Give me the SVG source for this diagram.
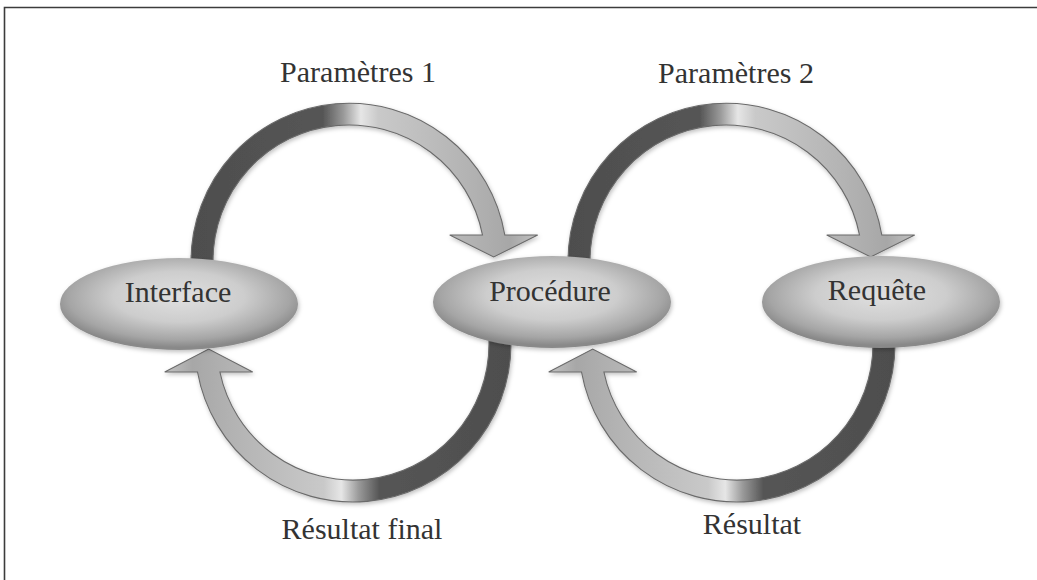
<svg xmlns="http://www.w3.org/2000/svg" width="1037" height="580" viewBox="0 0 1037 580">
  <defs>
    <!-- ribbon shading: dark start, bright crest, light grey arrow end -->
    <linearGradient id="ribbonTop" x1="0" y1="0" x2="1" y2="0">
      <stop offset="0" stop-color="#4e4e4e"/>
      <stop offset="0.38" stop-color="#555555"/>
      <stop offset="0.44" stop-color="#9a9a9a"/>
      <stop offset="0.49" stop-color="#e6e6e6"/>
      <stop offset="0.54" stop-color="#c9c9c9"/>
      <stop offset="0.8" stop-color="#b3b3b3"/>
      <stop offset="0.92" stop-color="#a7a7a7"/>
      <stop offset="1" stop-color="#c2c2c2"/>
    </linearGradient>
    <linearGradient id="ribbonBottom" x1="1" y1="0" x2="0" y2="0">
      <stop offset="0" stop-color="#4e4e4e"/>
      <stop offset="0.38" stop-color="#555555"/>
      <stop offset="0.44" stop-color="#9a9a9a"/>
      <stop offset="0.49" stop-color="#e6e6e6"/>
      <stop offset="0.54" stop-color="#c9c9c9"/>
      <stop offset="0.8" stop-color="#b3b3b3"/>
      <stop offset="0.92" stop-color="#a7a7a7"/>
      <stop offset="1" stop-color="#c2c2c2"/>
    </linearGradient>
    <radialGradient id="oval" cx="0.5" cy="0.42" r="0.55">
      <stop offset="0" stop-color="#e0e0e0"/>
      <stop offset="0.5" stop-color="#cdcdcd"/>
      <stop offset="0.85" stop-color="#a5a5a5"/>
      <stop offset="1" stop-color="#898989"/>
    </radialGradient>
    <filter id="soft" x="-10%" y="-10%" width="120%" height="130%">
      <feDropShadow dx="1" dy="2" stdDeviation="2" flood-color="#000" flood-opacity="0.25"/>
    </filter>
  </defs>
  <style>
    .frame { fill: none; stroke: #3c3c3c; stroke-width: 1.6; }
    .ribbon { stroke: #6a6a6a; stroke-width: 1.1; stroke-linejoin: miter; filter: url(#soft); }
    .top { fill: url(#ribbonTop); }
    .bottom { fill: url(#ribbonBottom); }
    .node ellipse { fill: url(#oval); filter: url(#soft); }
    text { font-family: "Liberation Serif", "Times New Roman", serif; font-size: 30px; fill: #333333; text-anchor: middle; }
  </style>

  <rect width="1037" height="580" fill="#ffffff"/>
  <path class="frame" d="M4.5,580 V7.5 H1037"/>

  <g id="connectors">
    <!-- Interface -> Procédure (top loop, centre 349,261) -->
    <path class="ribbon top" d="M191,266 L191,261 A158,158 0 0 1 504.8,235 L537.7,235 L493.7,257 L449.7,235 L482.5,235 A136,136 0 0 0 213,261 L213,266 Z"/>
    <!-- Procédure -> Requête (top loop, centre 726,261) -->
    <path class="ribbon top" d="M568,266 L568,261 A158,158 0 0 1 881.8,235 L914.7,235 L870.7,257 L826.7,235 L859.5,235 A136,136 0 0 0 590,261 L590,266 Z"/>
    <!-- Procédure -> Interface (bottom loop, centre 353,344) -->
    <path class="ribbon bottom" d="M511,339 L511,344 A158,158 0 0 1 197.5,372 L164.7,372 L208.7,349 L252.7,372 L219.9,372 A136,136 0 0 0 489,344 L489,339 Z"/>
    <!-- Requête -> Procédure (bottom loop, centre 737,344) -->
    <path class="ribbon bottom" d="M895,339 L895,344 A158,158 0 0 1 581.5,372 L548.7,372 L592.7,349 L636.7,372 L603.9,372 A136,136 0 0 0 873,344 L873,339 Z"/>
  </g>

  <g id="node-interface" class="node">
    <ellipse cx="179" cy="304" rx="119" ry="46"/>
    <text x="178" y="302">Interface</text>
  </g>
  <g id="node-procedure" class="node">
    <ellipse cx="552" cy="302" rx="119" ry="46"/>
    <text x="550" y="301">Procédure</text>
  </g>
  <g id="node-requete" class="node">
    <ellipse cx="881" cy="302" rx="119" ry="46"/>
    <text x="877" y="300">Requête</text>
  </g>

  <g id="labels">
    <text x="358" y="82">Paramètres 1</text>
    <text x="736" y="83">Paramètres 2</text>
    <text x="362" y="539">Résultat final</text>
    <text x="752" y="534">Résultat</text>
  </g>
</svg>
